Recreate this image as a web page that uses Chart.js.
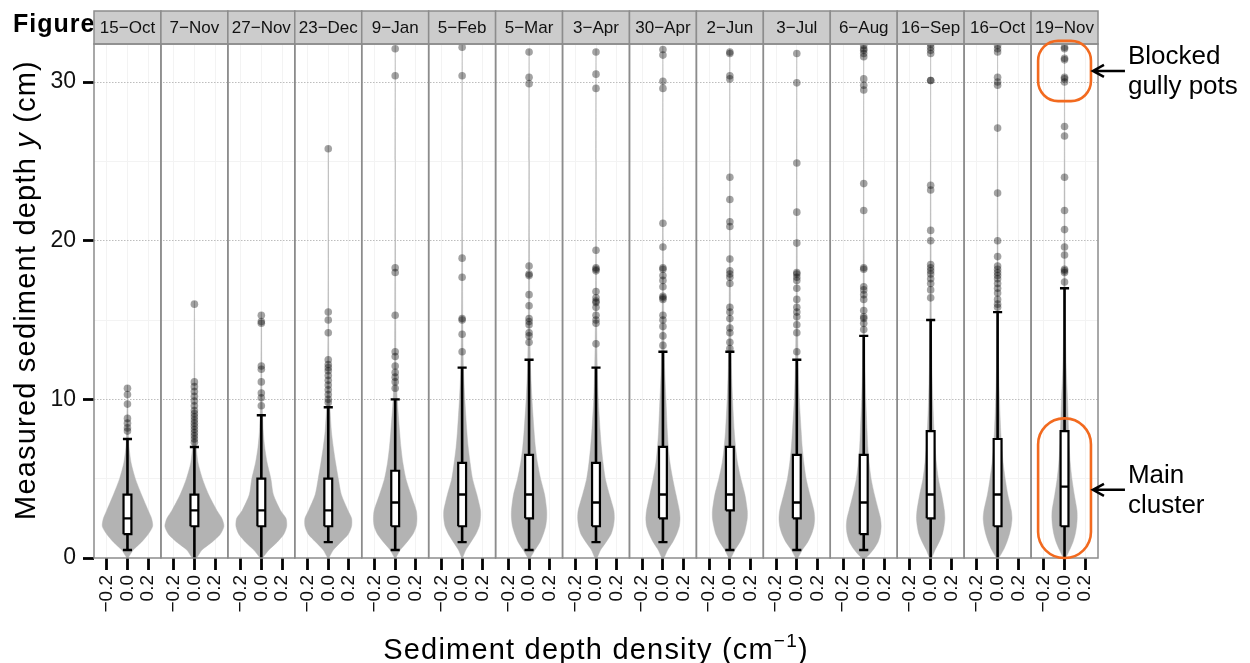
<!DOCTYPE html>
<html>
<head>
<meta charset="utf-8">
<title>Sediment depth violins</title>
<script src="https://cdn.jsdelivr.net/npm/chart.js@4.4.1/dist/chart.umd.min.js"></script>
<style>
  html, body { margin: 0; padding: 0; background: #fff; }
</style>
</head>
<body>
<canvas id="violins" width="1250" height="663"></canvas>
<script>
// ---- data ----
const dates = ['15−Oct', '7−Nov', '27−Nov', '23−Dec', '9−Jan', '5−Feb', '5−Mar', '3−Apr',
               '30−Apr', '2−Jun', '3−Jul', '6−Aug', '16−Sep', '16−Oct', '19−Nov'];

// box plot stats (cm)
const whiskerLow  = [0.5, 0, 0, 1.0, 0.5, 1.0, 0.5, 1.0, 1.0, 0.5, 0.5, 0.5, 0, 0, 0];
const q1          = [1.5, 2.0, 2.0, 2.0, 2.0, 2.0, 2.5, 2.0, 2.5, 3.0, 2.5, 1.5, 2.5, 2.0, 2.0];
const medians     = [2.5, 3.0, 3.0, 3.0, 3.5, 4.0, 4.0, 3.5, 4.0, 4.0, 3.5, 3.5, 4.0, 4.0, 4.5];
const q3          = [4.0, 4.0, 5.0, 5.0, 5.5, 6.0, 6.5, 6.0, 7.0, 7.0, 6.5, 6.5, 8.0, 7.5, 8.0];
const whiskerHigh = [7.5, 7.0, 9.0, 9.5, 10.0, 12.0, 12.5, 12.0, 13.0, 13.0, 12.5, 14.0, 15.0, 15.5, 17.0];

// outlying depths per survey (cm)
const outliers = [
  [8.0, 8.2, 8.5, 8.8, 9.7, 10.3, 10.7],
  [7.3, 7.5, 7.7, 7.9, 8.1, 8.3, 8.5, 8.7, 8.9, 9.1, 9.3, 9.6, 9.9, 10.2, 10.5, 10.8, 11.1, 16.0],
  [9.6, 10.1, 10.4, 11.1, 11.9, 12.1, 14.8, 14.9, 15.3],
  [9.8, 10.0, 10.3, 10.6, 10.9, 11.2, 11.5, 11.8, 12.0, 12.2, 12.5, 14.2, 15.0, 15.5, 25.8],
  [10.7, 11.1, 11.4, 11.7, 12.1, 12.7, 13.0, 15.3, 18.0, 18.3, 30.4, 32.1],
  [13.0, 14.1, 15.0, 15.1, 17.7, 18.9, 30.4, 32.2],
  [13.6, 14.0, 14.2, 14.7, 14.9, 15.1, 15.9, 16.6, 17.8, 17.9, 18.4, 29.9, 30.3, 31.9],
  [13.5, 14.8, 15.0, 15.3, 15.8, 16.1, 16.2, 16.4, 16.8, 18.1, 18.2, 18.3, 19.4, 29.6, 30.5, 31.9],
  [13.4, 14.0, 14.6, 15.0, 15.3, 16.3, 16.4, 16.5, 17.1, 17.5, 17.8, 18.2, 18.3, 19.6, 21.1, 29.6, 30.05, 31.7, 32.05],
  [13.2, 13.6, 14.2, 14.5, 15.1, 15.5, 15.8, 17.3, 17.7, 17.9, 18.1, 18.85, 20.9, 21.2, 22.6, 24.0, 30.2, 30.4, 31.8, 31.9],
  [13.0, 14.2, 14.7, 15.2, 15.5, 15.8, 16.3, 17.0, 17.5, 17.7, 17.9, 18.0, 19.85, 21.8, 24.9, 29.95, 31.8],
  [14.4, 14.8, 15.1, 15.2, 15.6, 16.3, 16.6, 16.9, 17.1, 18.2, 18.3, 21.9, 23.6, 29.5, 29.8, 30.2, 31.6, 31.8, 32.0, 32.1, 32.3],
  [16.4, 16.9, 17.3, 17.6, 17.9, 18.1, 18.3, 18.5, 20.0, 20.65, 23.2, 23.5, 30.1, 30.1, 31.8, 32.0, 32.2, 32.4],
  [15.8, 16.0, 16.3, 16.7, 17.0, 17.3, 17.6, 17.8, 18.0, 18.2, 18.4, 19.0, 20.0, 23.0, 27.1, 29.8, 30.0, 30.3, 31.9, 32.1, 32.3],
  [17.4, 18.0, 18.1, 18.2, 19.1, 19.6, 20.7, 21.9, 24.0, 26.6, 27.2, 30.0, 30.2, 30.3, 31.4, 31.5, 32.1, 32.2]
];

// violin half-widths (density, cm^-1) at these depths (cm)
const violinLevels = [0, 0.5, 1, 1.5, 2, 2.5, 3, 4, 5, 6, 7, 8, 10, 12, 15, 20, 25];
const violinWidths = [
  [0.005, 0.055, 0.135, 0.2, 0.243, 0.232, 0.2, 0.135, 0.076, 0.035, 0.015, 0.008, 0.003],
  [0.02, 0.072, 0.17, 0.25, 0.285, 0.265, 0.217, 0.137, 0.077, 0.035, 0.018, 0.01, 0.005, 0.003, 0.002],
  [0.01, 0.072, 0.153, 0.217, 0.245, 0.238, 0.185, 0.116, 0.092, 0.056, 0.032, 0.018, 0.007, 0.004, 0.002],
  [0.005, 0.048, 0.12, 0.193, 0.225, 0.225, 0.19, 0.126, 0.097, 0.071, 0.048, 0.03, 0.012, 0.006, 0.003, 0.002, 0.002],
  [0.005, 0.048, 0.113, 0.171, 0.203, 0.21, 0.203, 0.151, 0.103, 0.074, 0.055, 0.042, 0.02, 0.008, 0.005, 0.003, 0.002],
  [0.003, 0.035, 0.084, 0.132, 0.165, 0.177, 0.177, 0.142, 0.1, 0.077, 0.058, 0.045, 0.026, 0.012, 0.006, 0.004, 0.002],
  [0.01, 0.056, 0.105, 0.137, 0.16, 0.17, 0.17, 0.15, 0.111, 0.081, 0.061, 0.048, 0.028, 0.014, 0.007, 0.004, 0.002],
  [0.01, 0.044, 0.097, 0.145, 0.168, 0.177, 0.172, 0.129, 0.09, 0.068, 0.052, 0.04, 0.022, 0.012, 0.006, 0.003, 0.002],
  [0.01, 0.045, 0.094, 0.132, 0.158, 0.165, 0.158, 0.126, 0.094, 0.068, 0.052, 0.042, 0.029, 0.016, 0.008, 0.004, 0.002],
  [0.01, 0.048, 0.097, 0.135, 0.155, 0.168, 0.168, 0.145, 0.106, 0.074, 0.055, 0.042, 0.026, 0.015, 0.008, 0.004, 0.002],
  [0.01, 0.052, 0.105, 0.142, 0.165, 0.172, 0.165, 0.126, 0.09, 0.068, 0.052, 0.042, 0.024, 0.014, 0.007, 0.004, 0.002],
  [0.02, 0.089, 0.137, 0.16, 0.168, 0.161, 0.142, 0.103, 0.071, 0.052, 0.039, 0.032, 0.02, 0.012, 0.007, 0.004, 0.002],
  [0.01, 0.042, 0.081, 0.113, 0.129, 0.137, 0.132, 0.106, 0.074, 0.055, 0.042, 0.032, 0.02, 0.012, 0.007, 0.004, 0.002],
  [0.01, 0.056, 0.089, 0.114, 0.131, 0.139, 0.132, 0.098, 0.073, 0.053, 0.04, 0.03, 0.018, 0.01, 0.006, 0.004, 0.002],
  [0.01, 0.048, 0.081, 0.103, 0.116, 0.122, 0.12, 0.094, 0.071, 0.055, 0.045, 0.039, 0.029, 0.016, 0.008, 0.005, 0.003]
];

// axis ticks
const yTicks = [0, 5, 10, 15, 20, 25, 30];
const yLabelled = [0, 10, 20, 30];
const xTickOffsets = [-0.2, 0, 0.2];
const xTickLabels = ['−0.2', '0.0', '0.2'];

// callouts on the last survey
const calloutBlocked = { yLo: 28.8, yHi: 32.6, yArrow: 30.7, lines: ['Blocked', 'gully pots'] };
const calloutMain = { yLo: 0, yHi: 8.8, yArrow: 4.3, lines: ['Main', 'cluster'] };

// ---- layout / style ----
const FONT = '"Liberation Sans", Arial, Helvetica, sans-serif';
const PANEL_W = 0.646;        // density units per facet
const BOX_HW = 0.038;
const CAP_HW = 0.044;
const Y_MAX = 32.4;
const STRIP_TOP = 11;
const FRAME = '#8c8c8c';

const centers = dates.map((d, i) => i * PANEL_W);

Chart.defaults.font.family = FONT;
Chart.defaults.color = '#111';

function violinPoints(i) {
    const c = centers[i];
    const top = Math.max(...outliers[i], whiskerHigh[i]) + 0.2;
    const right = [], left = [];
    violinWidths[i].forEach((hw, k) => {
        if (violinLevels[k] >= top) return;
        right.push({ x: c + hw, y: violinLevels[k] });
        left.unshift({ x: c - hw, y: violinLevels[k] });
    });
    return [{ x: c, y: 0 }, ...right, { x: c, y: top }, ...left, { x: c, y: 0 }];
}

function boxPoints(i) {
    const c = centers[i];
    return [
        { x: c - BOX_HW, y: q1[i] }, { x: c + BOX_HW, y: q1[i] },
        { x: c + BOX_HW, y: q3[i] }, { x: c - BOX_HW, y: q3[i] },
        { x: c - BOX_HW, y: q1[i] }
    ];
}

// line pieces separated by null gaps
const whiskerPts = [], capPts = [], medianPts = [], outlierPts = [];
centers.forEach((c, i) => {
    whiskerPts.push({ x: c, y: whiskerLow[i] }, { x: c, y: whiskerHigh[i] }, { x: c, y: null });
    capPts.push({ x: c - CAP_HW, y: whiskerHigh[i] }, { x: c + CAP_HW, y: whiskerHigh[i] }, { x: c, y: null });
    if (whiskerLow[i] > 0) {
        capPts.push({ x: c - CAP_HW, y: whiskerLow[i] }, { x: c + CAP_HW, y: whiskerLow[i] }, { x: c, y: null });
    }
    medianPts.push({ x: c - BOX_HW, y: medians[i] }, { x: c + BOX_HW, y: medians[i] }, { x: c, y: null });
    outliers[i].forEach(v => outlierPts.push({ x: c, y: v }));
});

const datasets = [];
dates.forEach((d, i) => datasets.push({
    data: violinPoints(i), showLine: true, fill: 'shape', tension: 0.25,
    backgroundColor: '#b3b3b3', borderColor: 'rgba(179,179,179,0.45)', borderWidth: 1,
    pointRadius: 0, order: 5
}));
datasets.push({
    data: whiskerPts, showLine: true, borderColor: '#000', borderWidth: 2.6,
    pointRadius: 0, order: 4
});
datasets.push({
    data: capPts, showLine: true, borderColor: '#000', borderWidth: 2.4,
    pointRadius: 0, order: 3
});
dates.forEach((d, i) => datasets.push({
    data: boxPoints(i), showLine: true, fill: 'shape', tension: 0,
    backgroundColor: '#fff', borderColor: '#000', borderWidth: 2.2,
    borderJoinStyle: 'miter', pointRadius: 0, order: 2
}));
datasets.push({
    data: medianPts, showLine: true, borderColor: '#000', borderWidth: 2.4,
    pointRadius: 0, order: 1
});
datasets.push({
    data: outlierPts, showLine: false, pointRadius: 3.8, borderWidth: 0,
    backgroundColor: 'rgba(0,0,0,0.36)', order: 0
});

// draws mixed-style text pieces starting at x (baseline y)
function drawPieces(ctx, pieces, x, y) {
    pieces.forEach(p => {
        ctx.font = p.font;
        ctx.fillText(p.text, x, y - (p.rise || 0));
        x += ctx.measureText(p.text).width;
    });
}
function piecesWidth(ctx, pieces) {
    return pieces.reduce((s, p) => { ctx.font = p.font; return s + ctx.measureText(p.text).width; }, 0);
}

function roundedRect(ctx, x, y, w, h, r) {
    ctx.beginPath();
    ctx.moveTo(x + r, y);
    ctx.arcTo(x + w, y, x + w, y + h, r);
    ctx.arcTo(x + w, y + h, x, y + h, r);
    ctx.arcTo(x, y + h, x, y, r);
    ctx.arcTo(x, y, x + w, y, r);
    ctx.closePath();
}

const facetPlugin = {
    id: 'facets',
    afterDraw(chart) {
        const { ctx, chartArea: a, scales: { x, y } } = chart;
        ctx.save();

        // cut-off figure label, strips drawn over it
        ctx.fillStyle = '#000';
        ctx.textAlign = 'left';
        ctx.textBaseline = 'alphabetic';
        ctx.font = `bold 25px ${FONT}`;
        ctx.letterSpacing = '1px';
        ctx.fillText('Figure', 13, 32);
        ctx.letterSpacing = '0px';

        // facet strips and frames
        dates.forEach((d, i) => {
            const l = x.getPixelForValue(centers[i] - PANEL_W / 2);
            const r = x.getPixelForValue(centers[i] + PANEL_W / 2);
            ctx.fillStyle = '#cccccc';
            ctx.fillRect(l, STRIP_TOP, r - l, a.top - STRIP_TOP);
            ctx.strokeStyle = FRAME;
            ctx.lineWidth = 1.5;
            ctx.strokeRect(l, STRIP_TOP, r - l, a.top - STRIP_TOP);
            ctx.strokeRect(l, a.top, r - l, a.bottom - a.top);
            ctx.fillStyle = '#111';
            ctx.font = `17px ${FONT}`;
            ctx.textAlign = 'center';
            ctx.textBaseline = 'middle';
            ctx.fillText(d, (l + r) / 2, (STRIP_TOP + a.top) / 2 + 1);
        });

        // axis titles
        ctx.fillStyle = '#000';
        ctx.textAlign = 'left';
        ctx.textBaseline = 'alphabetic';
        ctx.letterSpacing = '1.2px';
        const yTitle = [
            { text: 'Measured sediment depth ', font: `29px ${FONT}` },
            { text: 'y', font: `italic 29px ${FONT}` },
            { text: ' (cm)', font: `29px ${FONT}` }
        ];
        ctx.save();
        ctx.translate(35, 290);
        ctx.rotate(-Math.PI / 2);
        drawPieces(ctx, yTitle, -piecesWidth(ctx, yTitle) / 2, 0);
        ctx.restore();

        const xTitle = [
            { text: 'Sediment depth density (cm', font: `29px ${FONT}` },
            { text: '−1', font: `19px ${FONT}`, rise: 12 },
            { text: ')', font: `29px ${FONT}` }
        ];
        drawPieces(ctx, xTitle, (a.left + a.right) / 2 - piecesWidth(ctx, xTitle) / 2, 659);
        ctx.letterSpacing = '0px';

        // callouts on the last facet
        const cLast = centers[centers.length - 1];
        const l = x.getPixelForValue(cLast - 0.255);
        const r = x.getPixelForValue(cLast + 0.255);
        [[calloutBlocked, 20], [calloutMain, 26]].forEach(([c, rad]) => {
            const t = y.getPixelForValue(c.yHi);
            const b = y.getPixelForValue(c.yLo);
            ctx.strokeStyle = '#f26a1f';
            ctx.lineWidth = 2.6;
            roundedRect(ctx, l, t, r - l, b - t, rad);
            ctx.stroke();

            const ay = y.getPixelForValue(c.yArrow);
            ctx.strokeStyle = '#000';
            ctx.lineWidth = 2.5;
            ctx.beginPath();
            ctx.moveTo(r + 34, ay);
            ctx.lineTo(r + 2, ay);
            ctx.moveTo(r + 13, ay - 6);
            ctx.lineTo(r + 2, ay);
            ctx.lineTo(r + 13, ay + 6);
            ctx.stroke();

            ctx.fillStyle = '#000';
            ctx.font = `26px ${FONT}`;
            ctx.textAlign = 'left';
            ctx.fillText(c.lines[0], r + 37, ay - 7);
            ctx.fillText(c.lines[1], r + 37, ay + 23);
        });

        ctx.restore();
    }
};

new Chart(document.getElementById('violins'), {
    type: 'scatter',
    data: { datasets },
    options: {
        responsive: false,
        animation: false,
        events: [],
        layout: { padding: { top: 44, right: 152, left: 0, bottom: 0 } },
        plugins: { legend: { display: false }, tooltip: { enabled: false } },
        scales: {
            x: {
                type: 'linear',
                min: -PANEL_W / 2,
                max: centers[centers.length - 1] + PANEL_W / 2,
                afterBuildTicks: s => {
                    s.ticks = [];
                    centers.forEach(c => xTickOffsets.forEach(o => s.ticks.push({ value: c + o })));
                },
                afterFit: s => { s.height = 105; },
                grid: { color: '#f3f3f3', lineWidth: 1, tickColor: '#000', tickLength: 12, tickWidth: 2.8 },
                border: { display: false },
                ticks: {
                    autoSkip: false, minRotation: 90, maxRotation: 90, padding: 5,
                    font: { size: 19 }, color: '#111',
                    callback: (v, i) => xTickLabels[i % xTickLabels.length]
                }
            },
            y: {
                type: 'linear',
                min: 0,
                max: Y_MAX,
                afterBuildTicks: s => { s.ticks = yTicks.map(v => ({ value: v })); },
                afterFit: s => { s.width = 94; },
                grid: {
                    lineWidth: 1,
                    tickLength: 11,
                    tickWidth: 2.8,
                    color: c => c.tick.value === 0 ? 'rgba(0,0,0,0)'
                        : yLabelled.includes(c.tick.value) ? '#bdbdbd' : '#f3f3f3',
                    tickColor: c => yLabelled.includes(c.tick.value) ? '#000' : 'rgba(0,0,0,0)'
                },
                border: {
                    display: false,
                    dash: c => yLabelled.includes(c.tick.value) ? [1.5, 1.5] : []
                },
                ticks: {
                    padding: 7, font: { size: 23 }, color: '#111',
                    callback: v => yLabelled.includes(v) ? String(v) : ''
                }
            }
        }
    },
    plugins: [facetPlugin]
});
</script>
</body>
</html>
